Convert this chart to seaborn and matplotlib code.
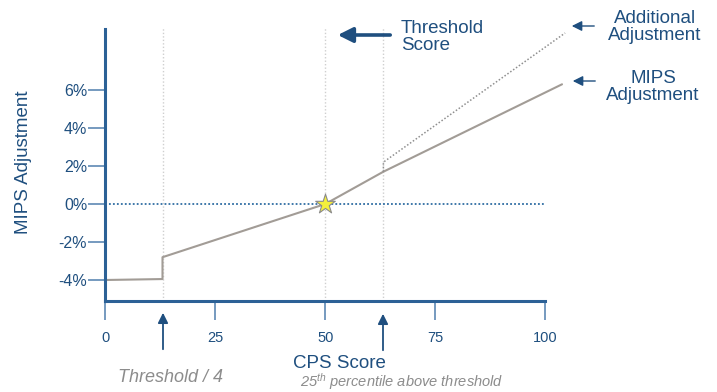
import matplotlib
matplotlib.use('Agg')
import matplotlib.pyplot as plt
import seaborn as sns
import pandas as pd

# data
mips_x = [0, 13, 13, 50, 63.2, 103.8]
mips_y = [-4, -3.95, -2.8, 0, 1.7, 6.3]
extra_x = [63.2, 63.2, 104.5]
extra_y = [1.7, 2.2, 9.0]
star_x = [50]
star_y = [0]
guide_x = [13, 50, 63.2]
x_ticks = [0, 25, 50, 75, 100]
y_ticks = [-4, -2, 0, 2, 4, 6]
y_labels = ['-4%', '-2%', '0%', '2%', '4%', '6%']

NAVY = '#1f4f7f'
SPINE = '#2c6196'
GREY = '#a29c96'

sns.set_style('white')
plt.rcParams['font.family'] = ['Liberation Sans', 'DejaVu Sans']
plt.rcParams['mathtext.fontset'] = 'custom'
plt.rcParams['mathtext.it'] = 'Liberation Sans:italic'
plt.rcParams['mathtext.rm'] = 'Liberation Sans'

W, H = 717, 392
fig = plt.figure(figsize=(7.17, 3.92), dpi=100)
ax = fig.add_axes([105.3 / W, (H - 300.9) / H, 484 / W, 279.3 / H])
ax.set_xlim(0, 110)
ax.set_ylim(-5.1, 9.6)

# guides
ax.vlines(guide_x, -5.1, 9.3, colors='#cfcfcf', linestyles=(0, (1, 1.5)), lw=1)
ax.hlines(0, 0, 100, colors='#2f6da3', linestyles=(0, (1, 1.2)), lw=1.3)

mips = pd.DataFrame({'x': mips_x, 'y': mips_y})
extra = pd.DataFrame({'x': extra_x, 'y': extra_y})
sns.lineplot(data=mips, x='x', y='y', estimator=None, sort=False, color=GREY, lw=1.5, ax=ax)
sns.lineplot(data=extra, x='x', y='y', estimator=None, sort=False, color='#8f8f8f',
             lw=1.1, linestyle=(0, (1, 1.3)), ax=ax)
sns.scatterplot(x=star_x, y=star_y, marker='*', s=220, color='#f4ef3c',
                edgecolor='#8a8a8a', linewidth=0.8, zorder=5, ax=ax)

for s in ['top', 'right']:
    ax.spines[s].set_visible(False)
for s in ['left', 'bottom']:
    ax.spines[s].set_color(SPINE)
    ax.spines[s].set_linewidth(2.2)
ax.spines['left'].set_bounds(-5.1, 9.2)
ax.spines['bottom'].set_bounds(0, 100)

ax.set_xticks(x_ticks)
ax.set_xticklabels([str(v) for v in x_ticks])
ax.set_yticks(y_ticks)
ax.set_yticklabels(y_labels)
ax.tick_params(axis='y', length=12, width=1.1, color='#4f7fae', pad=1,
               labelsize=11.5, labelcolor=NAVY, direction='out', left=True)
ax.tick_params(axis='x', length=14, width=1.1, color='#4f7fae', pad=8,
               labelsize=10.5, labelcolor=NAVY, direction='out', bottom=True)
ax.set_xlabel('')
ax.set_ylabel('')


def fp(px, py):
    return px / W, 1 - py / H


fig.text(*fp(24, 162), 'MIPS Adjustment', rotation=90, ha='center', va='center',
         fontsize=13.5, color=NAVY)
fig.text(*fp(339, 364), 'CPS Score', ha='center', va='center', fontsize=13.5, color=NAVY)
fig.text(*fp(170, 378), 'Threshold / 4', ha='center', va='center', fontsize=13,
         color='#8c8c8c', style='italic')
fig.text(*fp(402, 382), '25$^{th}$ percentile above threshold', ha='center', va='center',
         fontsize=10.5, color='#8c8c8c', style='italic')
fig.text(*fp(401, 37), 'Threshold\nScore', ha='left', va='center', fontsize=13.5,
         color=NAVY, linespacing=0.95)
fig.text(*fp(655, 27), 'Additional\nAdjustment', ha='center', va='center', fontsize=13.5,
         color=NAVY, linespacing=0.95)
fig.text(*fp(653, 87), 'MIPS\nAdjustment', ha='center', va='center', fontsize=13.5,
         color=NAVY, linespacing=0.95)


def arrow(x0, y0, x1, y1, lw, hw, hl):
    fig.add_artist(matplotlib.patches.FancyArrowPatch(
        fp(x0, y0), fp(x1, y1), transform=fig.transFigure,
        arrowstyle=f'-|>,head_width={hw},head_length={hl}',
        color=NAVY, lw=lw, mutation_scale=10))


arrow(393, 35, 335, 35, 2.6, 0.45, 0.9)
arrow(597, 26, 569, 26, 1.0, 0.3, 0.6)
arrow(598, 81, 570, 81, 1.0, 0.3, 0.6)
arrow(163, 352, 163, 310, 1.3, 0.3, 0.6)
arrow(383, 353, 383, 311, 1.3, 0.3, 0.6)

fig.savefig('out.png', dpi=100)
